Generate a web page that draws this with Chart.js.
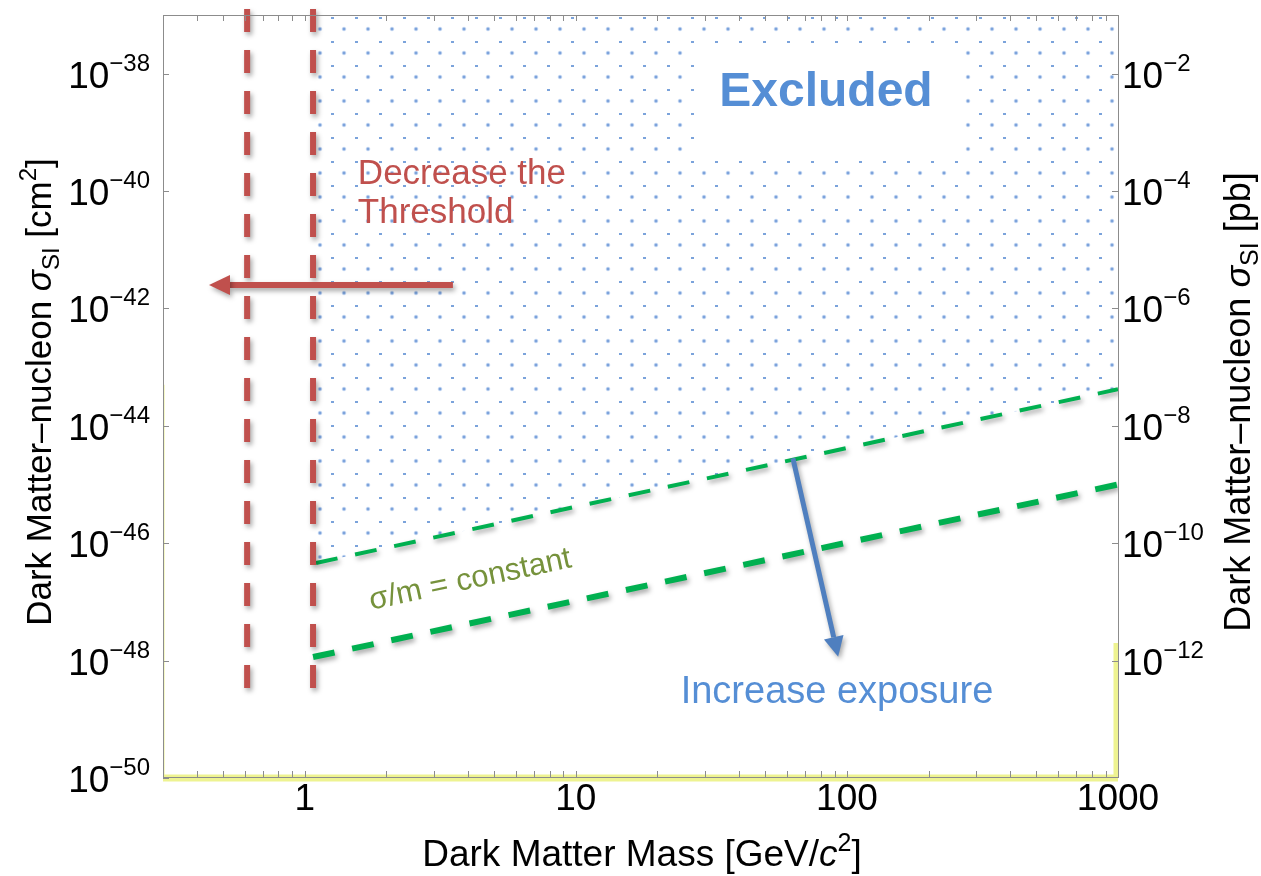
<!DOCTYPE html>
<html>
<head>
<meta charset="utf-8">
<script src="https://cdn.jsdelivr.net/npm/chart.js@4.4.1/dist/chart.umd.min.js"></script>
<style>
html,body{margin:0;padding:0;background:#fff;}
#wrap{width:1261px;height:876px;}
</style>
</head>
<body>
<div id="wrap"><canvas id="c" width="1261" height="876"></canvas></div>
<script>
// ---------------- data ----------------
const massRange = [0.3, 1000];            // GeV/c^2
const sigmaRangeCm2 = [1e-50, 1e-37];     // cm^2
const sigmaRangePb = [1e-14, 1e-1];       // pb (1 pb = 1e-36 cm^2)
const massTickLabels = [1, 10, 100, 1000];
const massMinorTicks = [0.4, 0.5, 0.6, 0.7, 0.8, 0.9, 2, 3, 4, 5, 6, 7, 8, 9,
                        20, 30, 40, 50, 60, 70, 80, 90, 200, 300, 400, 500, 600, 700, 800, 900];
const sigmaCm2TickExponents = [-38, -40, -42, -44, -46, -48, -50];
const sigmaPbTickExponents = [-2, -4, -6, -8, -10, -12];

const thresholdLineA_mass = [0.613, 0.613];
const thresholdLineB_mass = [1.073, 1.073];
const thresholdLine_sigma = [1.26e-37, 3.16e-49];

const currentLimit_mass = [1.1, 1000];
const currentLimit_sigma = [4.6e-47, 4.2e-44];
const futureLimit_mass = [1.073, 1000];
const futureLimit_sigma = [1.15e-48, 1.0e-45];

const floorBandLeft_mass = [0.3, 0.3];
const floorBandLeft_sigma = [5.0e-44, 1e-50];
const floorBandBottom_mass = [0.3, 1000];
const floorBandBottom_sigma = [1e-50, 1e-50];
const floorBandRight_mass = [1000, 1000];
const floorBandRight_sigma = [1e-50, 2.0e-48];

const thresholdArrow_mass = [3.52, 0.53];
const thresholdArrow_sigma = [2.5e-42, 2.5e-42];
const exposureArrow_mass = [63.2, 89.4];
const exposureArrow_sigma = [2.8e-45, 2.5e-48];

// ---------------- annotations (data coordinates) ----------------
const notes = [
  {text: 'Excluded', x: 83.7, y: 2.82e-39, size: 48, weight: 'bold', color: '#558ed5', align: 'center', box: true},
  {text: 'Decrease the', x: 1.57, y: 1.32e-40, size: 35, color: '#c0504d', align: 'left'},
  {text: 'Threshold', x: 1.57, y: 2.82e-41, size: 35, color: '#c0504d', align: 'left'},
  {text: 'σ/m = constant', x: 4.14, y: 1.7e-47, size: 31, color: '#76923c', align: 'center', rot: -12},
  {text: 'Increase exposure', x: 91.9, y: 1.9e-49, size: 38, color: '#558ed5', align: 'center'}
];

const FONT = '"Liberation Sans", Arial, Helvetica, sans-serif';
const xy = (xs, ys) => xs.map((x, i) => ({x: x, y: ys[i]}));

const canvas = document.getElementById('c');
const ctx0 = canvas.getContext('2d');

function makeDotPattern(ctx) {
  const t = document.createElement('canvas');
  t.width = 24; t.height = 24;
  const g = t.getContext('2d');
  const grd = g.createRadialGradient(8, 5, 0, 8, 5, 2.8);
  grd.addColorStop(0, 'rgba(75,125,200,0.95)');
  grd.addColorStop(0.45, 'rgba(110,155,220,0.7)');
  grd.addColorStop(1, 'rgba(180,205,240,0)');
  g.fillStyle = grd;
  g.beginPath(); g.arc(8, 5, 2.8, 0, Math.PI * 2); g.fill();
  g.fillStyle = 'rgba(90,140,210,0.8)';
  g.fillRect(19, 17, 3, 2);
  return ctx.createPattern(t, 'repeat');
}
const dotPattern = makeDotPattern(ctx0);

const bandStyle = {borderColor: '#eef391', pointRadius: 0, fill: false, order: 9};
const datasets = [
  {label: 'excluded', data: xy(currentLimit_mass, currentLimit_sigma), borderWidth: 0, pointRadius: 0,
   fill: 'end', backgroundColor: dotPattern, order: 10},
  Object.assign({label: 'floorLeft', data: xy(floorBandLeft_mass, floorBandLeft_sigma), borderWidth: 3,
   clip: {left: 0, top: 0, right: 0, bottom: 0}}, bandStyle),
  Object.assign({label: 'floorBottom', data: xy(floorBandBottom_mass, floorBandBottom_sigma), borderWidth: 7,
   clip: {left: 0, top: 0, right: 0, bottom: 4}}, bandStyle),
  Object.assign({label: 'floorRight', data: xy(floorBandRight_mass, floorBandRight_sigma), borderWidth: 9,
   clip: {left: 0, top: 0, right: 0, bottom: 0}}, bandStyle),
  {label: 'current', data: xy(currentLimit_mass, currentLimit_sigma), borderColor: '#00b050', borderWidth: 4,
   borderDash: [22, 18], pointRadius: 0, fill: false, order: 3, shadow: true},
  {label: 'future', data: xy(futureLimit_mass, futureLimit_sigma), borderColor: '#00b050', borderWidth: 6,
   borderDash: [22, 18], pointRadius: 0, fill: false, order: 3, shadow: true},
  {label: 'thresholdA', data: xy(thresholdLineA_mass, thresholdLine_sigma), borderColor: '#c0504d', borderWidth: 6,
   borderDash: [23, 18], pointRadius: 0, fill: false, order: 2, clip: false, shadow: true},
  {label: 'thresholdB', data: xy(thresholdLineB_mass, thresholdLine_sigma), borderColor: '#c0504d', borderWidth: 6,
   borderDash: [23, 18], pointRadius: 0, fill: false, order: 2, clip: false, shadow: true},
  {label: 'arrowThreshold', data: xy(thresholdArrow_mass, thresholdArrow_sigma), borderColor: '#c0504d', borderWidth: 6,
   pointRadius: 0, fill: false, order: 1, clip: false, shadow: true, arrow: {len: 21, half: 10}},
  {label: 'arrowExposure', data: xy(exposureArrow_mass, exposureArrow_sigma), borderColor: '#4f7fbf', borderWidth: 5,
   pointRadius: 0, fill: false, order: 1, clip: false, shadow: true, arrow: {len: 20, half: 10}}
];

function fontStr(s) {
  return (s.italic ? 'italic ' : '') + (s.weight ? s.weight + ' ' : '') + s.size + 'px ' + FONT;
}
function drawRich(c, segs, x, y, align) {
  let total = 0;
  segs.forEach(s => { c.font = fontStr(s); s.w = c.measureText(s.t).width; total += s.w; });
  let cx = align === 'center' ? x - total / 2 : (align === 'right' ? x - total : x);
  c.textAlign = 'left';
  c.textBaseline = 'alphabetic';
  segs.forEach(s => { c.font = fontStr(s); c.fillText(s.t, cx, y + (s.dy || 0)); cx += s.w; });
}

function drawArrowHead(chart, index, ds) {
  const meta = chart.getDatasetMeta(index);
  const p0 = meta.data[meta.data.length - 2], p1 = meta.data[meta.data.length - 1];
  const dx = p1.x - p0.x, dy = p1.y - p0.y, L = Math.hypot(dx, dy);
  const ux = dx / L, uy = dy / L, px = -uy, py = ux;
  const c = chart.ctx;
  c.beginPath();
  c.moveTo(p1.x + ux * ds.arrow.len, p1.y + uy * ds.arrow.len);
  c.lineTo(p1.x + px * ds.arrow.half, p1.y + py * ds.arrow.half);
  c.lineTo(p1.x - px * ds.arrow.half, p1.y - py * ds.arrow.half);
  c.closePath();
  c.fillStyle = ds.borderColor;
  c.fill();
}

const decor = {
  id: 'decor',
  beforeDraw(chart) {
    const c = chart.ctx;
    c.save(); c.fillStyle = '#fff'; c.fillRect(0, 0, chart.width, chart.height); c.restore();
  },
  beforeDatasetDraw(chart, args) {
    const ds = chart.data.datasets[args.index];
    if (ds.shadow) {
      const c = chart.ctx;
      c.save();
      c.shadowColor = 'rgba(0,0,0,0.35)';
      c.shadowBlur = 5; c.shadowOffsetX = 2; c.shadowOffsetY = 3;
    }
  },
  afterDatasetDraw(chart, args) {
    const ds = chart.data.datasets[args.index];
    if (ds.shadow) {
      if (ds.arrow) drawArrowHead(chart, args.index, ds);
      chart.ctx.restore();
    }
  },
  afterDatasetsDraw(chart) {
    const c = chart.ctx, a = chart.chartArea;
    const sx = chart.scales.x, sy = chart.scales.y, sy2 = chart.scales.y2;
    c.save();
    // frame
    c.strokeStyle = '#8c8c8c'; c.lineWidth = 1;
    c.strokeRect(Math.round(a.left) + 0.5, Math.round(a.top) + 0.5, Math.round(a.right - a.left), Math.round(a.bottom - a.top) - 1);
    // ticks
    c.beginPath();
    massTickLabels.concat(massMinorTicks).forEach(v => {
      const px = Math.round(sx.getPixelForValue(v)) + 0.5;
      c.moveTo(px, a.bottom - 1); c.lineTo(px, a.bottom - 7);
      c.moveTo(px, a.top); c.lineTo(px, a.top + 6);
    });
    sigmaCm2TickExponents.forEach(e => {
      const py = Math.round(sy.getPixelForValue(Math.pow(10, e))) + 0.5;
      c.moveTo(a.left, py); c.lineTo(a.left + 6, py);
    });
    sigmaPbTickExponents.forEach(e => {
      const py = Math.round(sy2.getPixelForValue(Math.pow(10, e))) + 0.5;
      c.moveTo(a.right, py); c.lineTo(a.right - 6, py);
    });
    c.stroke();
    // y tick labels with superscripts
    c.fillStyle = '#000';
    sigmaCm2TickExponents.forEach(e => {
      const py = sy.getPixelForValue(Math.pow(10, e));
      const segs = [{t: '10', size: 37}, {t: '−' + Math.abs(e), size: 24, dy: -17}];
      drawRich(c, segs, a.left - 13, py + 14, 'right');
    });
    sigmaPbTickExponents.forEach(e => {
      const py = sy2.getPixelForValue(Math.pow(10, e));
      const segs = [{t: '10', size: 37}, {t: '−' + Math.abs(e), size: 24, dy: -17}];
      drawRich(c, segs, a.right + 4, py + 14, 'left');
    });
    // axis titles
    c.save();
    c.translate(51, 392);
    c.rotate(-Math.PI / 2);
    drawRich(c, [{t: 'Dark Matter–nucleon ', size: 35}, {t: 'σ', size: 35, italic: true},
                 {t: 'SI', size: 24, dy: 8}, {t: ' [cm', size: 35}, {t: '2', size: 24, dy: -15}, {t: ']', size: 35}], 0, 0, 'center');
    c.restore();
    c.save();
    c.translate(1250, 402);
    c.rotate(-Math.PI / 2);
    drawRich(c, [{t: 'Dark Matter–nucleon ', size: 36}, {t: 'σ', size: 36, italic: true},
                 {t: 'SI', size: 25, dy: 8}, {t: ' [pb]', size: 36}], 0, 0, 'center');
    c.restore();
    drawRich(c, [{t: 'Dark Matter Mass [GeV/', size: 37}, {t: 'c', size: 37, italic: true},
                 {t: '2', size: 25, dy: -15}, {t: ']', size: 37}], 642, 866, 'center');
    // annotations
    notes.forEach(n => {
      const px = sx.getPixelForValue(n.x), py = sy.getPixelForValue(n.y);
      const seg = {t: n.text, size: n.size, weight: n.weight};
      c.font = fontStr(seg);
      const w = c.measureText(n.text).width;
      if (n.box) {
        c.fillStyle = '#fff';
        c.fillRect(px - w / 2 - 20, py - 60, w + 52, 106);
      }
      c.save();
      c.translate(px, py);
      if (n.rot) c.rotate(n.rot * Math.PI / 180);
      c.fillStyle = n.color;
      drawRich(c, [seg], 0, 0, n.align);
      c.restore();
    });
    c.restore();
  }
};

new Chart(canvas, {
  type: 'line',
  data: {datasets: datasets},
  options: {
    responsive: false,
    animation: false,
    devicePixelRatio: 1,
    layout: {padding: {top: 15, left: 0, right: 0, bottom: 0}},
    plugins: {legend: {display: false}, tooltip: {enabled: false}},
    elements: {line: {tension: 0}},
    scales: {
      x: {
        type: 'logarithmic', position: 'bottom', min: massRange[0], max: massRange[1],
        grid: {display: false, drawTicks: false}, border: {display: false},
        afterBuildTicks: s => { s.ticks = massTickLabels.map(v => ({value: v})); },
        ticks: {callback: v => String(v), font: {family: FONT, size: 37, lineHeight: 1}, color: '#000',
                padding: 3, maxRotation: 0, autoSkip: false},
        afterFit: s => { s.height = 98; }
      },
      y: {
        type: 'logarithmic', position: 'left', min: sigmaRangeCm2[0], max: sigmaRangeCm2[1],
        grid: {display: false}, border: {display: false}, ticks: {display: false},
        afterFit: s => { s.width = 163; }
      },
      y2: {
        type: 'logarithmic', position: 'right', min: sigmaRangePb[0], max: sigmaRangePb[1],
        grid: {display: false}, border: {display: false}, ticks: {display: false},
        afterFit: s => { s.width = 143; }
      }
    }
  },
  plugins: [decor]
});
</script>
</body>
</html>
